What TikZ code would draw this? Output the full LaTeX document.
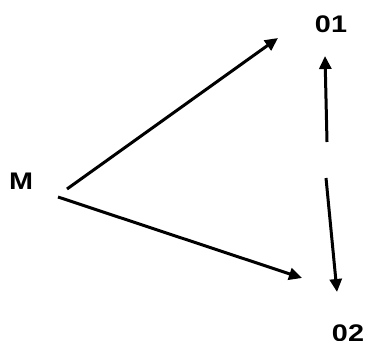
\documentclass[tikz,border=0pt]{standalone}
\usepackage{fontspec}
\setmainfont{Liberation Sans}
\usetikzlibrary{arrows.meta}
\begin{document}
\begin{tikzpicture}[x=1pt,y=-1pt,
  lbl/.style={font=\bfseries\fontsize{24}{26}\selectfont, inner sep=0pt, xscale=1.2},
  conn/.style={line width=3pt, -{Triangle[length=13pt,width=12pt]}}]
\useasboundingbox (0,0) rectangle (366,340);
\node[lbl] (M) at (21,181) {M};
\node[lbl] (o1) at (331,24) {01};
\node[lbl] (o2) at (348,333) {02};
\coordinate (a1s) at (67,189);
\coordinate (a1e) at (278,38);
\coordinate (a2s) at (58,197);
\coordinate (a2e) at (302,278);
\coordinate (a3s) at (327,142);
\coordinate (a3e) at (325,56);
\coordinate (a4s) at (326,178);
\coordinate (a4e) at (337,292);
\draw[conn] (a1s) -- (a1e);
\draw[conn] (a2s) -- (a2e);
\draw[conn] (a3s) -- (a3e);
\draw[conn] (a4s) -- (a4e);
\end{tikzpicture}
\end{document}
